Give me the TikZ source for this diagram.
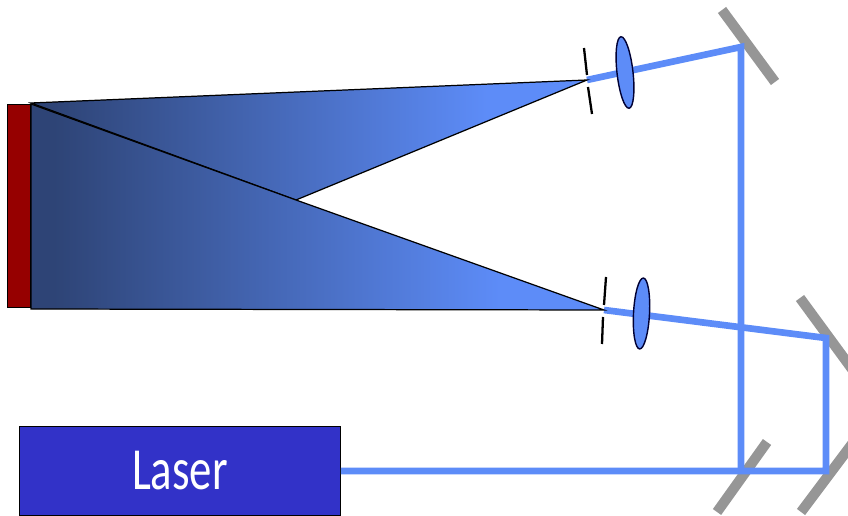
\documentclass[tikz,border=0pt]{standalone}
\usepackage{fontspec}
\usepackage{xcolor}
\setmainfont{Carlito}
\usetikzlibrary{positioning,shapes.geometric}
\definecolor{beamblue}{RGB}{93,140,248}
\definecolor{fandark}{RGB}{46,68,118}
\definecolor{samplered}{RGB}{150,0,0}
\definecolor{laserblue}{RGB}{50,50,200}
\definecolor{mirrorgray}{RGB}{150,150,150}
\pgfdeclarehorizontalshading{fanfade}{100bp}{color(0bp)=(fandark); color(27bp)=(fandark); color(66bp)=(beamblue); color(100bp)=(beamblue)}
\tikzset{
  beam/.style={beamblue, line width=3.8pt, line join=miter},
  mirror/.style={mirrorgray, line width=5.8pt},
  slit/.style={black, line width=1.3pt},
  lens/.style={ellipse, draw=black!80!blue, line width=0.8pt, fill=beamblue, inner sep=0pt},
  fan/.style={draw=black, line width=0.7pt, shading=fanfade},
}
\begin{document}
\begin{tikzpicture}[x=0.02cm, y=-0.02cm]
  \clip (0,0) rectangle (848,516);
  % mirrors
  \draw[mirror] (722,10)--(775,82);
  \draw[mirror] (800,298)--(852,369);
  \draw[mirror] (801,512)--(852,444);
  \draw[mirror] (767,442)--(717,512);
  % sample
  \node[draw=black, line width=0.6pt, fill=samplered, minimum width=0.47cm, minimum height=4.06cm, inner sep=0pt, anchor=north west] (sample) at (7,104) {};
  % laser
  \node[draw=black, line width=0.6pt, fill=laserblue, minimum width=6.42cm, minimum height=1.78cm, inner sep=0pt, anchor=north west, text=white, font=\fontsize{34}{34}\selectfont] (laser) at (19,426) {\scalebox{0.75}[1]{Laser}};
  % beam path
  \coordinate (top) at (741,47);
  \coordinate (split) at (741,471);
  \coordinate (upper) at (826,338);
  \coordinate (lower) at (826,471);
  \coordinate (spotA) at (587,80);
  \coordinate (spotB) at (604,310);
  \draw[beam] (spotA)--(top)--(split);
  \draw[beam] (spotB)--(upper)--(lower)--(laser.east |- lower);
  % fans
  \coordinate (cross) at (296,200);
  \path[fan] (31,103)--(spotA)--(cross)--cycle;
  \path[fan] (31,104)--(cross)--(spotB)--(31,309)--cycle;
  % slits
  \draw[slit] (584,48)--(587,75);
  \draw[slit] (588,87)--(592,114);
  \draw[slit] (606,277)--(604,305);
  \draw[slit] (603,317)--(602,344);
  % lenses
  \node[lens, minimum width=0.32cm, minimum height=1.44cm, rotate=6.5] (lensA) at (625,72.5) {};
  \node[lens, minimum width=0.32cm, minimum height=1.42cm, rotate=-3] (lensB) at (641.5,313.5) {};
\end{tikzpicture}
\end{document}
